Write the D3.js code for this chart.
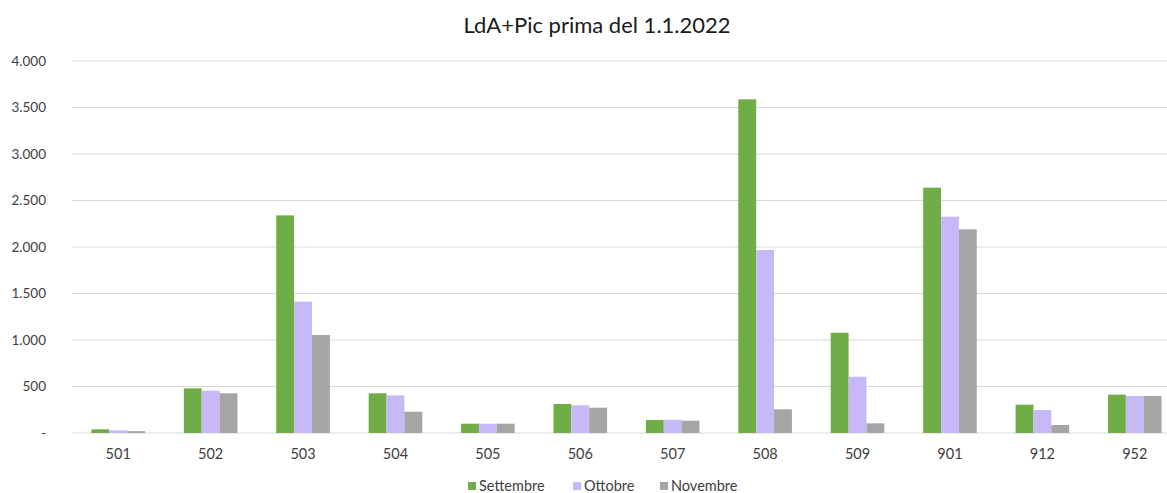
<!DOCTYPE html>
<html>
<head>
<meta charset="utf-8">
<script src="https://cdn.jsdelivr.net/npm/d3@7"></script>
<style>
  html, body { margin: 0; padding: 0; background: #fff; }
  svg { display: block; font-family: Lato, "Open Sans", sans-serif; }
</style>
</head>
<body>
<svg id="chart" width="1167" height="493"></svg>
<script>
// Categories and monthly series
const categories = ["501", "502", "503", "504", "505", "506", "507", "508", "509", "901", "912", "952"];
const seriesNames = ["Settembre", "Ottobre", "Novembre"];
const settembre = [40, 480, 2340, 427, 100, 312, 140, 3588, 1078, 2638, 305, 412];
const ottobre   = [29, 455, 1412, 405, 100, 298, 142, 1968, 605, 2326, 247, 398];
const novembre  = [20, 427, 1054, 229, 100, 272, 132, 255, 104, 2190, 86, 398];
const yTicks = [0, 500, 1000, 1500, 2000, 2500, 3000, 3500, 4000];
const colors = ["#70AD47", "#C7B9F8", "#A5A5A5"];

const seriesValues = [settembre, ottobre, novembre];
const rows = categories.map((c, i) => ({
  cat: c,
  vals: seriesNames.map((s, k) => ({ key: s, value: seriesValues[k][i] }))
}));

const svg = d3.select("#chart");
const plot = { left: 72, right: 1181, top: 61, bottom: 433 };

const x = d3.scaleBand().domain(categories).range([plot.left, plot.right]).paddingInner(0.42).paddingOuter(0.21);
const xSub = d3.scaleBand().domain(seriesNames).range([0, x.bandwidth()]).padding(0);
const y = d3.scaleLinear().domain([0, 4000]).range([plot.bottom, plot.top]);

const fmt = v => v === 0 ? "-" : d3.format(",")(v).replace(/,/g, ".");

// Title
svg.append("text")
  .attr("x", 597).attr("y", 33)
  .attr("text-anchor", "middle")
  .attr("font-size", 22)
  .attr("fill", "#1a1a1a")
  .text("LdA+Pic prima del 1.1.2022");

// Horizontal gridlines
svg.append("g")
  .selectAll("line")
  .data(yTicks)
  .join("line")
  .attr("x1", plot.left).attr("x2", plot.right)
  .attr("y1", d => y(d)).attr("y2", d => y(d))
  .attr("stroke", "#D9D9D9").attr("stroke-width", 1.2);

// Y axis labels
const yAxis = d3.axisLeft(y).tickValues(yTicks).tickFormat(fmt).tickSize(0).tickPadding(0);
svg.append("g")
  .attr("transform", `translate(46,0)`)
  .call(yAxis)
  .call(g => g.select(".domain").remove())
  .call(g => g.selectAll("text").attr("font-size", 13.5).attr("fill", "#404040").attr("font-family", "Lato, sans-serif"));

// Bars
svg.append("g")
  .selectAll("g")
  .data(rows)
  .join("g")
  .attr("transform", d => `translate(${x(d.cat)},0)`)
  .selectAll("rect")
  .data(d => d.vals)
  .join("rect")
  .attr("x", d => xSub(d.key))
  .attr("width", xSub.bandwidth())
  .attr("y", d => y(d.value))
  .attr("height", d => y(0) - y(d.value))
  .attr("fill", (d, i) => colors[i]);

// X axis labels
const xAxis = d3.axisBottom(x).tickSize(0).tickPadding(0);
svg.append("g")
  .attr("transform", `translate(0,${plot.bottom + 26})`)
  .call(xAxis)
  .call(g => g.select(".domain").remove())
  .call(g => g.selectAll("text").attr("font-size", 14.5).attr("fill", "#404040").attr("dy", "0").attr("font-family", "Lato, sans-serif"));

// Legend
const legendX = [468, 573, 660];
const legend = svg.append("g").selectAll("g")
  .data(seriesNames)
  .join("g")
  .attr("transform", (d, i) => `translate(${legendX[i]},486)`);
legend.append("rect")
  .attr("width", 8).attr("height", 8).attr("y", -4)
  .attr("fill", (d, i) => colors[i]);
legend.append("text")
  .attr("x", 11).attr("y", 5)
  .attr("font-size", 14.5).attr("fill", "#404040")
  .text(d => d);
</script>
</body>
</html>
